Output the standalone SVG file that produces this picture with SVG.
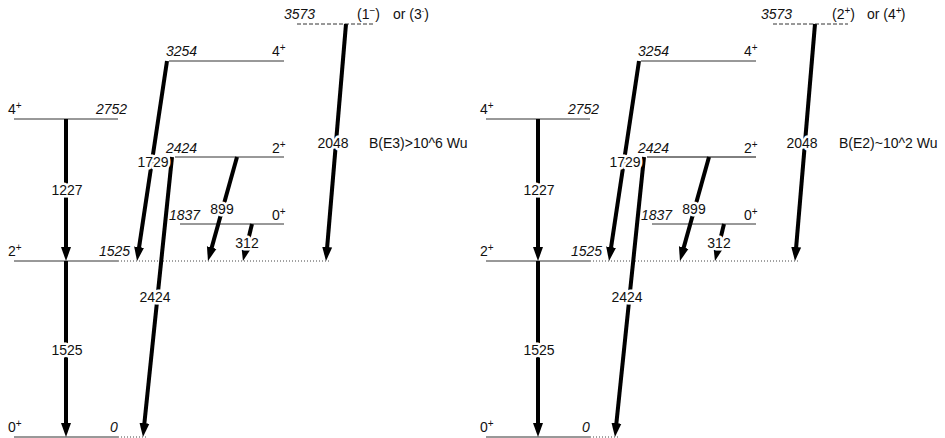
<svg xmlns="http://www.w3.org/2000/svg" width="945" height="438" viewBox="0 0 945 438">
<defs>
<style>
text{font-family:"Liberation Sans",Arial,sans-serif;font-size:14px;fill:#111}
.e{font-style:italic}
.lv{stroke:#333;stroke-width:1;fill:none}
.lvb{stroke:#000;stroke-width:1;fill:none}
.dot{stroke:#444;stroke-width:1;stroke-dasharray:1 2;fill:none}
.dash{stroke:#333;stroke-width:1;stroke-dasharray:4 2;fill:none}
.tr{stroke:#000;stroke-width:4;fill:none;marker-end:url(#ah)}
.tl{paint-order:stroke;stroke:#fff;stroke-width:5px;stroke-linejoin:round;text-anchor:middle}
</style>
<marker id="ah" markerUnits="userSpaceOnUse" markerWidth="16" markerHeight="12" viewBox="0 0 16 10" refX="2" refY="5" orient="auto">
<path d="M0,0 L14,5 L0,10 z" fill="#000"/>
</marker>
</defs>
<rect width="945" height="438" fill="#fff"/>

<g id="left">
<g id="L-lvl-0">
<line class="lv" x1="14" y1="437" x2="118" y2="437"/>
<line class="dot" x1="118" y1="437" x2="146" y2="437"/>
<text x="8" y="432">0<tspan font-size="10" dy="-5">+</tspan></text>
<text class="e" x="110" y="432">0</text>
</g>
<g id="L-lvl-1525">
<line class="lv" x1="14" y1="261" x2="118" y2="261"/>
<line class="dot" x1="118" y1="261" x2="330" y2="261"/>
<text x="8" y="256">2<tspan font-size="10" dy="-5">+</tspan></text>
<text class="e" x="99" y="256">1525</text>
</g>
<g id="L-lvl-1837">
<line class="lv" x1="180" y1="224" x2="284" y2="224"/>
<text class="e" x="169" y="220">1837</text>
<text x="272" y="220">0<tspan font-size="10" dy="-5">+</tspan></text>
</g>
<g id="L-lvl-2424">
<line class="lv" x1="175" y1="157" x2="284" y2="157"/>
<text class="e" x="166" y="153">2424</text>
<text x="272" y="153">2<tspan font-size="10" dy="-5">+</tspan></text>
</g>
<g id="L-lvl-2752">
<line class="lv" x1="14" y1="119" x2="118" y2="119"/>
<text x="8" y="114">4<tspan font-size="10" dy="-5">+</tspan></text>
<text class="e" x="96" y="114">2752</text>
</g>
<g id="L-lvl-3254">
<line class="lv" x1="169" y1="61" x2="284" y2="61"/>
<text class="e" x="166" y="56">3254</text>
<text x="272" y="56">4<tspan font-size="10" dy="-5">+</tspan></text>
</g>
<g id="L-lvl-3573">
<line class="dash" x1="297" y1="24" x2="373" y2="24"/>
<text class="e" x="284" y="19">3573</text>
<text x="357" y="19">(1<tspan font-size="10" dy="-5">−</tspan><tspan dy="5">)</tspan></text>
<text x="393" y="19">or (3<tspan font-size="7" dy="-6">-</tspan><tspan dy="6">)</tspan></text>
</g>
<g id="L-connectors">
<line class="tr" x1="66" y1="119" x2="66" y2="249"/>
<line class="tr" x1="66" y1="261" x2="66" y2="425"/>
<line class="tr" x1="167" y1="61" x2="138.8" y2="249.1"/>
<line class="tr" x1="172" y1="157" x2="144.2" y2="425.1"/>
<line class="tr" x1="237" y1="157" x2="211.2" y2="249.4"/>
<line class="tr" x1="252" y1="224" x2="245.8" y2="249.3"/>
<line class="tr" x1="346" y1="24" x2="327" y2="249"/>
<text class="tl" x="67" y="195">1227</text>
<text class="tl" x="67" y="355">1525</text>
<text class="tl" x="153" y="167">1729</text>
<text class="tl" x="155" y="302">2424</text>
<text class="tl" x="222" y="214">899</text>
<text class="tl" x="247" y="248">312</text>
<text class="tl" x="333" y="148">2048</text>
<text x="369" y="148">B(E3)&gt;10^6 Wu</text>
</g>
</g>

<g id="right" transform="translate(472,0)">
<g id="R-lvl-0">
<line class="lv" x1="14" y1="437" x2="118" y2="437"/>
<line class="dot" x1="118" y1="437" x2="146" y2="437"/>
<text x="8" y="432">0<tspan font-size="10" dy="-5">+</tspan></text>
<text class="e" x="110" y="432">0</text>
</g>
<g id="R-lvl-1525">
<line class="lv" x1="14" y1="261" x2="118" y2="261"/>
<line class="dot" x1="118" y1="261" x2="326" y2="261"/>
<text x="8" y="256">2<tspan font-size="10" dy="-5">+</tspan></text>
<text class="e" x="99" y="256">1525</text>
</g>
<g id="R-lvl-1837">
<line class="lv" x1="180" y1="224" x2="284" y2="224"/>
<text class="e" x="169" y="220">1837</text>
<text x="272" y="220">0<tspan font-size="10" dy="-5">+</tspan></text>
</g>
<g id="R-lvl-2424">
<line class="lvb" x1="175" y1="157" x2="284" y2="157"/>
<text class="e" x="166" y="153">2424</text>
<text x="272" y="153">2<tspan font-size="10" dy="-5">+</tspan></text>
</g>
<g id="R-lvl-2752">
<line class="lv" x1="14" y1="119" x2="118" y2="119"/>
<text x="8" y="114">4<tspan font-size="10" dy="-5">+</tspan></text>
<text class="e" x="96" y="114">2752</text>
</g>
<g id="R-lvl-3254">
<line class="lv" x1="169" y1="61" x2="284" y2="61"/>
<text class="e" x="166" y="56">3254</text>
<text x="272" y="56">4<tspan font-size="10" dy="-5">+</tspan></text>
</g>
<g id="R-lvl-3573">
<line class="dash" x1="301" y1="24" x2="376" y2="24"/>
<text class="e" x="289" y="19">3573</text>
<text x="360" y="19">(2<tspan font-size="10" dy="-5">+</tspan><tspan dy="5">)</tspan></text>
<text x="395" y="19">or (4<tspan font-size="10" dy="-5">+</tspan><tspan dx="-1" dy="5">)</tspan></text>
</g>
<g id="R-connectors">
<line class="tr" x1="66" y1="119" x2="66" y2="249"/>
<line class="tr" x1="66" y1="261" x2="66" y2="425"/>
<line class="tr" x1="167" y1="61" x2="138.8" y2="249.1"/>
<line class="tr" x1="172" y1="157" x2="144.2" y2="425.1"/>
<line class="tr" x1="237" y1="157" x2="211.2" y2="249.4"/>
<line class="tr" x1="252" y1="224" x2="245.8" y2="249.3"/>
<line class="tr" x1="343" y1="24" x2="324" y2="249"/>
<text class="tl" x="67" y="195">1227</text>
<text class="tl" x="67" y="355">1525</text>
<text class="tl" x="153" y="167">1729</text>
<text class="tl" x="155" y="302">2424</text>
<text class="tl" x="222" y="214">899</text>
<text class="tl" x="247" y="248">312</text>
<text class="tl" x="330" y="148">2048</text>
<text x="367" y="148">B(E2)~10^2 Wu</text>
</g>
</g>
</svg>
